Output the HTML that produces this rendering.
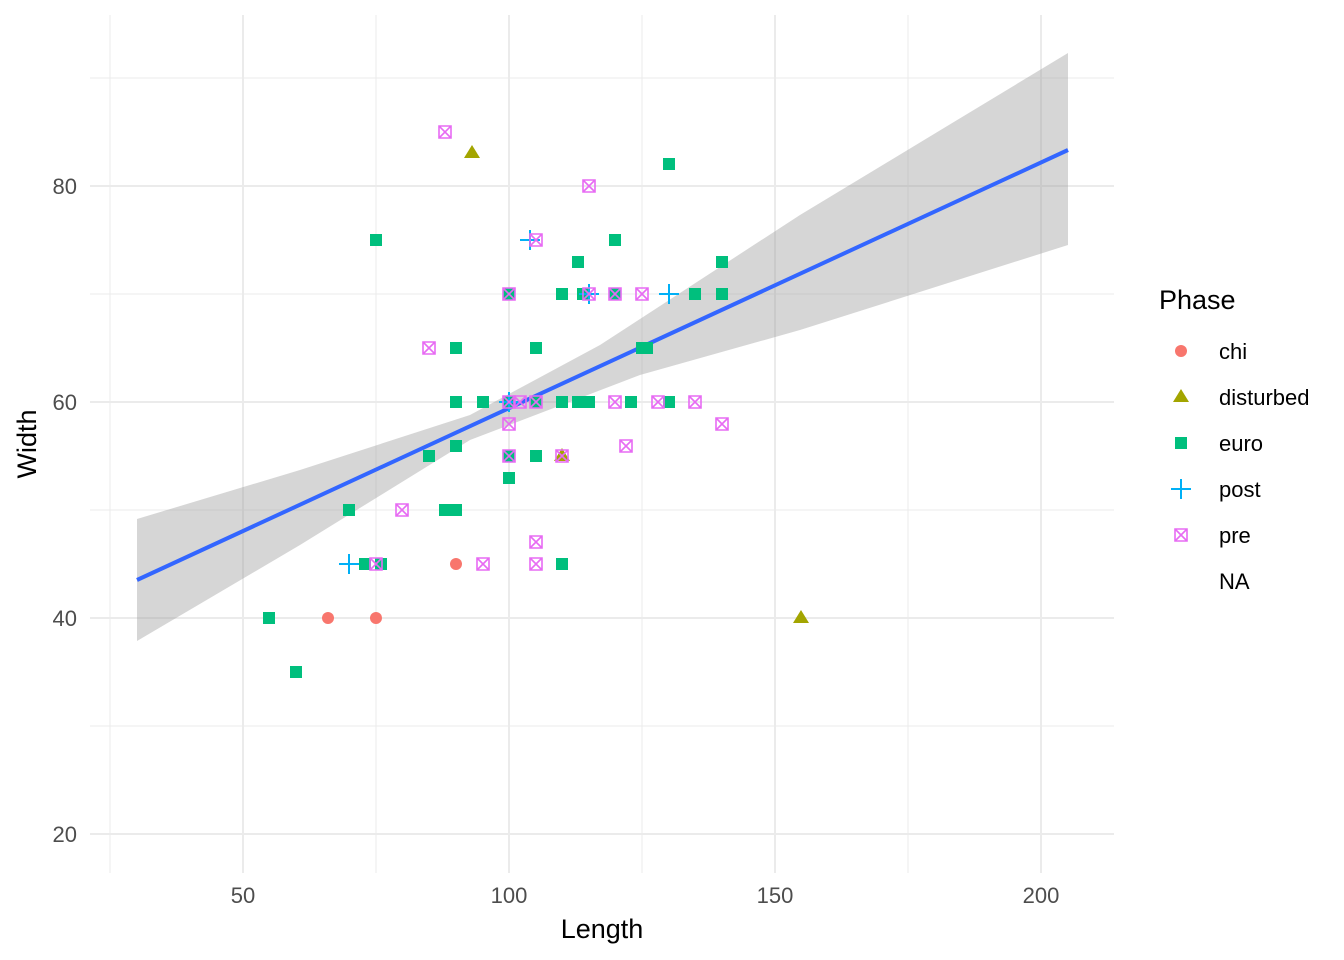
<!DOCTYPE html>
<html><head><meta charset="utf-8"><style>body{margin:0;background:#fff}svg{display:block}text{font-family:"Liberation Sans",sans-serif}</style></head><body>
<svg width="1344" height="960" xmlns="http://www.w3.org/2000/svg">
<defs><path id="p" d="M-6,-6h12v12h-12zM-6,-6l12,12M6,-6l-12,12"/></defs>
<g stroke="#ebebeb" stroke-width="1">
<line x1="110" y1="15" x2="110" y2="873"/><line x1="376" y1="15" x2="376" y2="873"/><line x1="642" y1="15" x2="642" y2="873"/><line x1="908" y1="15" x2="908" y2="873"/>
<line x1="90" y1="726" x2="1114" y2="726"/><line x1="90" y1="510" x2="1114" y2="510"/><line x1="90" y1="294" x2="1114" y2="294"/><line x1="90" y1="78" x2="1114" y2="78"/>
</g>
<g stroke="#ebebeb" stroke-width="2">
<line x1="243" y1="15" x2="243" y2="873"/><line x1="509" y1="15" x2="509" y2="873"/><line x1="775" y1="15" x2="775" y2="873"/><line x1="1041" y1="15" x2="1041" y2="873"/>
<line x1="90" y1="834" x2="1114" y2="834"/><line x1="90" y1="618" x2="1114" y2="618"/><line x1="90" y1="402" x2="1114" y2="402"/><line x1="90" y1="186" x2="1114" y2="186"/>
</g>
<path d="M137,519 L300,470 L470,415 L600,345 L800,215 L1068,53 L1068,245 L800,330 L640,375 L470,440 L300,545 L137,641 Z" fill="#999" fill-opacity="0.4"/>
<line x1="137" y1="580" x2="1068" y2="150" stroke="#3366FF" stroke-width="4"/>
<g fill="#F8766D"><circle cx="328" cy="618" r="6"/><circle cx="376" cy="618" r="6"/><circle cx="456" cy="564" r="6"/><circle cx="456" cy="402" r="6"/></g>
<g fill="#A3A500"><path d="M472,145 l8,13 h-16z"/><path d="M562,448 l8,13 h-16z"/><path d="M801,610 l8,13 h-16z"/></g>
<g fill="#00BF7D">
<rect x="263" y="612" width="12" height="12"/><rect x="290" y="666" width="12" height="12"/><rect x="370" y="234" width="12" height="12"/><rect x="343" y="504" width="12" height="12"/><rect x="359" y="558" width="12" height="12"/><rect x="375" y="558" width="12" height="12"/><rect x="423" y="450" width="12" height="12"/><rect x="439" y="504" width="12" height="12"/><rect x="450" y="504" width="12" height="12"/><rect x="450" y="440" width="12" height="12"/><rect x="450" y="342" width="12" height="12"/><rect x="450" y="396" width="12" height="12"/><rect x="477" y="396" width="12" height="12"/><rect x="503" y="396" width="12" height="12"/><rect x="503" y="472" width="12" height="12"/><rect x="503" y="288" width="12" height="12"/><rect x="530" y="342" width="12" height="12"/><rect x="530" y="450" width="12" height="12"/><rect x="556" y="288" width="12" height="12"/><rect x="556" y="396" width="12" height="12"/><rect x="556" y="558" width="12" height="12"/><rect x="572" y="256" width="12" height="12"/><rect x="572" y="396" width="12" height="12"/><rect x="577" y="288" width="12" height="12"/><rect x="583" y="396" width="12" height="12"/><rect x="609" y="234" width="12" height="12"/><rect x="609" y="288" width="12" height="12"/><rect x="625" y="396" width="12" height="12"/><rect x="636" y="342" width="12" height="12"/><rect x="641" y="342" width="12" height="12"/><rect x="663" y="158" width="12" height="12"/><rect x="663" y="396" width="12" height="12"/><rect x="689" y="288" width="12" height="12"/><rect x="716" y="256" width="12" height="12"/><rect x="716" y="288" width="12" height="12"/><rect x="503" y="450" width="12" height="12"/><rect x="530" y="396" width="12" height="12"/>
</g>
<g stroke="#00B0F6" stroke-width="2"><path d="M339,564h20M349,554v20M520,240h20M530,230v20M579,294h20M589,284v20M659,294h20M669,284v20M499,402h20M509,392v20"/></g>
<g stroke="#E76BF3" stroke-width="1.6" fill="none">
<use href="#p" x="445" y="132"/><use href="#p" x="589" y="186"/><use href="#p" x="536" y="240"/><use href="#p" x="429" y="348"/><use href="#p" x="509" y="294"/><use href="#p" x="589" y="294"/><use href="#p" x="615" y="294"/><use href="#p" x="642" y="294"/><use href="#p" x="509" y="402"/><use href="#p" x="520" y="402"/><use href="#p" x="536" y="402"/><use href="#p" x="615" y="402"/><use href="#p" x="658" y="402"/><use href="#p" x="695" y="402"/><use href="#p" x="509" y="424"/><use href="#p" x="722" y="424"/><use href="#p" x="626" y="446"/><use href="#p" x="509" y="456"/><use href="#p" x="562" y="456"/><use href="#p" x="402" y="510"/><use href="#p" x="376" y="564"/><use href="#p" x="483" y="564"/><use href="#p" x="536" y="564"/><use href="#p" x="536" y="542"/><use href="#p" x="1181" y="535"/>
</g>
<g fill="#4d4d4d" font-size="22" text-anchor="end"><text x="77" y="194">80</text><text x="77" y="410">60</text><text x="77" y="626">40</text><text x="77" y="842">20</text></g>
<g fill="#4d4d4d" font-size="22" text-anchor="middle"><text x="243" y="903">50</text><text x="509" y="903">100</text><text x="775" y="903">150</text><text x="1041" y="903">200</text></g>
<text x="602" y="938" font-size="27" text-anchor="middle">Length</text>
<text transform="translate(36,444) rotate(-90)" font-size="27" text-anchor="middle">Width</text>
<text x="1159" y="309" font-size="27">Phase</text>
<circle cx="1181" cy="351" r="6" fill="#F8766D"/>
<path d="M1181,389 l8,13 h-16z" fill="#A3A500"/>
<rect x="1175" y="437" width="12" height="12" fill="#00BF7D"/>
<path d="M1171,489h20M1181,479v20" stroke="#00B0F6" stroke-width="2"/>
<g font-size="22"><text x="1219" y="359">chi</text><text x="1219" y="405">disturbed</text><text x="1219" y="451">euro</text><text x="1219" y="497">post</text><text x="1219" y="543">pre</text><text x="1219" y="589">NA</text></g>
</svg>
</body></html>
